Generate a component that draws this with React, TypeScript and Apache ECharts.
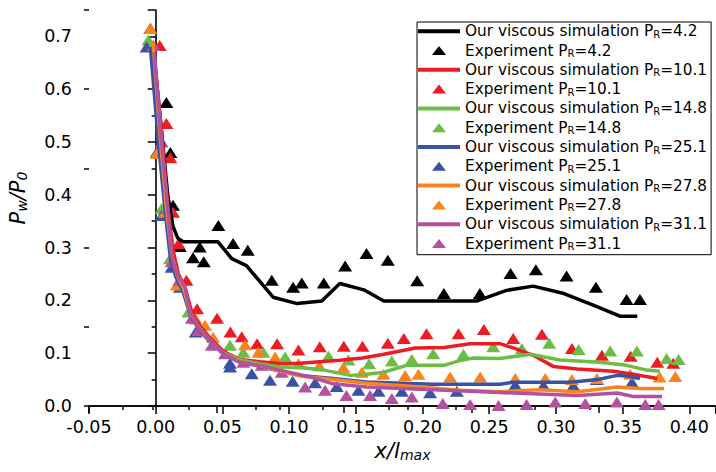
import React, { useEffect, useRef } from 'react';
import * as echarts from 'echarts';

const FONT = 'DejaVu Sans';

const PR_LABELS = ['4.2', '10.1', '14.8', '25.1', '27.8', '31.1'];
const COLORS = ['#000000', '#ed1c24', '#6cbd45', '#3953a4', '#f7841f', '#b4519f'];

// Simulation curves [x/lmax, Pw/P0]
const sim_4_2 = [
  [-0.002, 0.68], [0.004, 0.53], [0.009, 0.4], [0.013, 0.34], [0.0165, 0.318], [0.0205, 0.311],
  [0.0467, 0.311], [0.057, 0.279], [0.068, 0.266], [0.088, 0.206], [0.106, 0.194], [0.1245, 0.199],
  [0.138, 0.232], [0.156, 0.22], [0.171, 0.199], [0.241, 0.199], [0.263, 0.219], [0.283, 0.227],
  [0.306, 0.213], [0.328, 0.191], [0.348, 0.17], [0.361, 0.17],
];
const sim_10_1 = [
  [-0.002, 0.685], [0.004, 0.53], [0.009, 0.38], [0.013, 0.295], [0.017, 0.25], [0.022, 0.225],
  [0.027, 0.178], [0.033, 0.152], [0.041, 0.128], [0.051, 0.103], [0.063, 0.088], [0.078, 0.084],
  [0.095, 0.08], [0.108, 0.081], [0.138, 0.0865], [0.155, 0.091], [0.171, 0.098], [0.1945, 0.11],
  [0.216, 0.111], [0.236, 0.118], [0.258, 0.118], [0.268, 0.11], [0.283, 0.096], [0.298, 0.075],
  [0.316, 0.07], [0.343, 0.066], [0.358, 0.06], [0.376, 0.052],
];
const sim_14_8 = [
  [-0.004, 0.69], [0.003, 0.51], [0.008, 0.37], [0.012, 0.285], [0.016, 0.25], [0.021, 0.225],
  [0.026, 0.175], [0.032, 0.15], [0.04, 0.127], [0.05, 0.102], [0.062, 0.088], [0.078, 0.08],
  [0.093, 0.074], [0.108, 0.073], [0.126, 0.068], [0.146, 0.058], [0.158, 0.06], [0.171, 0.064],
  [0.188, 0.077], [0.216, 0.077], [0.228, 0.086], [0.238, 0.091], [0.258, 0.09], [0.281, 0.098],
  [0.303, 0.087], [0.333, 0.083], [0.353, 0.077], [0.368, 0.068], [0.378, 0.066],
];
const sim_25_1 = [
  [-0.004, 0.68], [0.002, 0.5], [0.007, 0.37], [0.011, 0.28], [0.015, 0.245], [0.02, 0.22],
  [0.026, 0.172], [0.032, 0.147], [0.04, 0.123], [0.05, 0.1], [0.062, 0.084], [0.078, 0.075],
  [0.093, 0.066], [0.108, 0.058], [0.133, 0.052], [0.158, 0.0455], [0.208, 0.041], [0.236, 0.041],
  [0.258, 0.041], [0.268, 0.045], [0.288, 0.045], [0.311, 0.045], [0.331, 0.05], [0.346, 0.058],
  [0.356, 0.056], [0.363, 0.052],
];
const sim_27_8 = [
  [-0.002, 0.69], [0.003, 0.52], [0.008, 0.375], [0.012, 0.285], [0.016, 0.248], [0.021, 0.222],
  [0.026, 0.175], [0.032, 0.15], [0.04, 0.125], [0.05, 0.1], [0.063, 0.084], [0.078, 0.076],
  [0.093, 0.066], [0.108, 0.057], [0.133, 0.05], [0.158, 0.043], [0.183, 0.039], [0.208, 0.034],
  [0.228, 0.03], [0.258, 0.027], [0.288, 0.031], [0.316, 0.027], [0.346, 0.036], [0.363, 0.033],
  [0.381, 0.033],
];
const sim_31_1 = [
  [-0.001, 0.67], [0.004, 0.51], [0.009, 0.375], [0.012, 0.282], [0.016, 0.25], [0.022, 0.225],
  [0.026, 0.175], [0.032, 0.15], [0.041, 0.124], [0.051, 0.099], [0.063, 0.083], [0.078, 0.077],
  [0.093, 0.068], [0.116, 0.055], [0.133, 0.042], [0.158, 0.036], [0.208, 0.031], [0.236, 0.028],
  [0.278, 0.0235], [0.316, 0.02], [0.346, 0.0246], [0.358, 0.018], [0.3795, 0.018],
];

// Experimental points
const exp_4_2 = [
  [-0.004, 0.715], [0.008, 0.575], [0.011, 0.48], [0.013, 0.38], [0.018, 0.302], [0.028, 0.281],
  [0.033, 0.301], [0.036, 0.273], [0.047, 0.342], [0.058, 0.308], [0.069, 0.295], [0.087, 0.238],
  [0.103, 0.225], [0.1095, 0.233], [0.126, 0.233], [0.142, 0.265], [0.158, 0.289], [0.174, 0.276],
  [0.196, 0.237], [0.216, 0.213], [0.243, 0.213], [0.266, 0.251], [0.285, 0.258], [0.308, 0.246],
  [0.33, 0.225], [0.353, 0.2015], [0.363, 0.2015],
];
const exp_10_1 = [
  [0.003, 0.683], [0.008, 0.535], [0.011, 0.47], [0.013, 0.367], [0.017, 0.308], [0.023, 0.238],
  [0.031, 0.184], [0.046, 0.166], [0.056, 0.14], [0.0645, 0.131], [0.076, 0.118], [0.091, 0.118],
  [0.107, 0.106], [0.123, 0.112], [0.141, 0.113], [0.155, 0.113], [0.174, 0.119], [0.186, 0.128],
  [0.203, 0.137], [0.227, 0.137], [0.246, 0.145], [0.268, 0.128], [0.2895, 0.136], [0.312, 0.109],
  [0.3345, 0.096], [0.356, 0.094], [0.376, 0.083], [0.388, 0.081],
];
const exp_14_8 = [
  [-0.0055, 0.693], [0.0045, 0.374], [0.0107, 0.279], [0.0245, 0.178], [0.0557, 0.115], [0.0657, 0.102],
  [0.0807, 0.102], [0.097, 0.093], [0.1295, 0.094], [0.1445, 0.087], [0.16, 0.08], [0.177, 0.085],
  [0.192, 0.088], [0.208, 0.099], [0.2307, 0.098], [0.253, 0.112], [0.2745, 0.109], [0.295, 0.119],
  [0.317, 0.107], [0.3407, 0.104], [0.3607, 0.104], [0.383, 0.09], [0.392, 0.088],
];
const exp_25_1 = [
  [-0.0068, 0.68], [0.0008, 0.481], [0.0045, 0.361], [0.012, 0.263], [0.0182, 0.225], [0.03, 0.14],
  [0.0557, 0.081], [0.0557, 0.074], [0.072, 0.061], [0.0857, 0.049], [0.1027, 0.047], [0.1195, 0.044],
  [0.1357, 0.037], [0.152, 0.03], [0.167, 0.028], [0.1845, 0.028], [0.2057, 0.025], [0.2257, 0.028],
  [0.2695, 0.04], [0.2907, 0.039], [0.313, 0.039], [0.3307, 0.05], [0.357, 0.045],
];
const exp_27_8 = [
  [-0.004, 0.715], [0.0008, 0.478], [0.007, 0.367], [0.0158, 0.229], [0.03, 0.165], [0.037, 0.153],
  [0.043, 0.13], [0.067, 0.116], [0.077, 0.102], [0.0895, 0.093], [0.107, 0.08], [0.1227, 0.076],
  [0.1407, 0.073], [0.1545, 0.064], [0.1707, 0.06], [0.187, 0.058], [0.197, 0.06], [0.2207, 0.055],
  [0.2432, 0.055], [0.2695, 0.052], [0.292, 0.052], [0.312, 0.05], [0.3307, 0.052], [0.3557, 0.06],
  [0.3777, 0.055], [0.3895, 0.056],
];
const exp_31_1 = [
  [-0.0018, 0.683], [0.0045, 0.5], [0.0095, 0.374], [0.012, 0.273], [0.0177, 0.238], [0.027, 0.166],
  [0.032, 0.143], [0.042, 0.115], [0.052, 0.099], [0.0657, 0.083], [0.0795, 0.077], [0.0945, 0.064],
  [0.112, 0.036], [0.127, 0.03], [0.143, 0.02], [0.1607, 0.02], [0.177, 0.014], [0.192, 0.017],
  [0.2152, 0.0045], [0.2357, 0.003], [0.257, 0.001], [0.278, 0.003], [0.2995, 0.0076], [0.322, 0.0045],
  [0.3457, 0.0076], [0.367, 0.003], [0.377, 0.003],
];

const SIM = [sim_4_2, sim_10_1, sim_14_8, sim_25_1, sim_27_8, sim_31_1];
const EXP = [exp_4_2, exp_10_1, exp_14_8, exp_25_1, exp_27_8, exp_31_1];

const SIM_PREFIX = 'Our viscous simulation';
const EXP_PREFIX = 'Experiment';

const TRI_ICON = 'path://M0,9L7,0L14,9Z M-14,4.5L-14,4.5 M28,4.5L28,4.5';
const LINE_ICON = 'path://M0,0L42,0L42,4L0,4Z';

export default function App() {
  const ref = useRef<HTMLDivElement>(null);

  useEffect(() => {
    if (!ref.current) return;
    const chart = echarts.init(ref.current, null, { renderer: 'svg' });

    const series: any[] = [];
    const legendData: any[] = [];
    PR_LABELS.forEach((pr, i) => {
      const simName = `${SIM_PREFIX} PR=${pr}`;
      const expName = `${EXP_PREFIX} PR=${pr}`;
      series.push({
        name: simName,
        type: 'line',
        data: SIM[i],
        symbol: 'none',
        showSymbol: false,
        color: COLORS[i],
        itemStyle: { color: COLORS[i], opacity: 1 },
        lineStyle: { width: 3.5, color: COLORS[i], opacity: 1 },
        xAxisIndex: 0,
        yAxisIndex: 0,
      });
      series.push({
        name: expName,
        type: 'scatter',
        data: EXP[i],
        symbol: 'triangle',
        symbolSize: [14, 11],
        color: COLORS[i],
        itemStyle: { color: COLORS[i], opacity: 1 },
        xAxisIndex: 0,
        yAxisIndex: 0,
      });
      legendData.push({ name: simName, icon: LINE_ICON, itemStyle: { color: COLORS[i], opacity: 1 } });
      legendData.push({ name: expName, icon: TRI_ICON, itemStyle: { color: COLORS[i], opacity: 1 } });
    });

    const axisLine = { show: true, lineStyle: { color: '#000', width: 1.6 } };

    chart.setOption({
      animation: false,
      backgroundColor: '#fff',
      grid: { left: 89, right: 0, top: 10, bottom: 66, outerBoundsMode: 'none', containLabel: false },
      legend: {
        orient: 'vertical',
        left: 417,
        top: 22,
        data: legendData,
        selectedMode: false,
        itemWidth: 42,
        itemHeight: 14,
        itemGap: 3.8,
        padding: [1.7, 4, 3.2, 1],
        borderColor: '#000',
        borderWidth: 1,
        backgroundColor: '#fff',
        formatter: (name: string) => {
          const idx = name.indexOf(' PR=');
          return `{t|${name.slice(0, idx)} P}{sub|R}{t|=${name.slice(idx + 4)}}`;
        },
        textStyle: {
          fontFamily: FONT,
          fontSize: 15.3,
          color: '#000',
          rich: {
            t: { fontFamily: FONT, fontSize: 15.3, lineHeight: 16, color: '#000' },
            sub: { fontFamily: FONT, fontSize: 10, lineHeight: 6, verticalAlign: 'bottom', color: '#000' },
          },
        },
      },
      xAxis: [
        {
          type: 'value',
          position: 'bottom',
          min: -0.05,
          max: 0.42,
          interval: 0.05,
          splitLine: { show: false },
          axisLine,
          axisTick: { show: true, inside: false, length: 8, lineStyle: { color: '#000', width: 1.5 } },
          minorTick: { show: true, splitNumber: 2, length: 4, lineStyle: { color: '#000', width: 1.5 } },
          axisLabel: {
            show: true,
            margin: 12,
            showMaxLabel: false,
            fontFamily: FONT,
            fontSize: 17.5,
            color: '#000',
            formatter: (v: number) => v.toFixed(2),
          },
          name: '{i|x/l}{s|max}',
          nameLocation: 'middle',
          nameGap: 33,
          nameTextStyle: {
            fontFamily: FONT,
            fontStyle: 'italic',
            fontSize: 21,
            color: '#000',
            rich: {
              i: { fontFamily: FONT, fontStyle: 'italic', fontSize: 21, lineHeight: 22, color: '#000' },
              s: { fontFamily: FONT, fontStyle: 'italic', fontSize: 14, lineHeight: 8, verticalAlign: 'bottom', color: '#000' },
            },
          },
        },
        {
          type: 'value',
          position: 'top',
          min: 0,
          max: 0.492,
          interval: 0.1,
          splitLine: { show: false },
          axisLine,
          axisTick: { show: true, inside: true, length: 7, lineStyle: { color: '#000', width: 1.5 } },
          minorTick: { show: true, splitNumber: 2, length: 4, lineStyle: { color: '#000', width: 1.5 } },
          axisLabel: { show: false },
        },
      ],
      yAxis: [
        {
          type: 'value',
          position: 'left',
          min: 0,
          max: 0.75,
          interval: 0.1,
          splitLine: { show: false },
          axisLine,
          axisTick: { show: true, inside: false, length: 8, lineStyle: { color: '#000', width: 1.5 } },
          minorTick: { show: true, splitNumber: 2, length: 4, lineStyle: { color: '#000', width: 1.5 } },
          axisLabel: {
            show: true,
            margin: 17,
            showMaxLabel: false,
            fontFamily: FONT,
            fontSize: 17.5,
            color: '#000',
            formatter: (v: number) => v.toFixed(1),
          },
          name: '{i|P}{s|w}{i|/P}{s|0}',
          nameLocation: 'middle',
          nameGap: 60,
          nameTextStyle: {
            fontFamily: FONT,
            fontStyle: 'italic',
            fontSize: 21,
            color: '#000',
            padding: [0, 0, 0, 20],
            rich: {
              i: { fontFamily: FONT, fontStyle: 'italic', fontSize: 21, lineHeight: 22, color: '#000' },
              s: { fontFamily: FONT, fontStyle: 'italic', fontSize: 14, lineHeight: 8, verticalAlign: 'bottom', color: '#000' },
            },
          },
        },
        {
          type: 'value',
          position: 'right',
          min: 0,
          max: 0.5,
          interval: 0.1,
          splitLine: { show: false },
          axisLine: { show: false },
          axisTick: { show: true, inside: true, length: 5, lineStyle: { color: '#000', width: 1.5 } },
          axisLabel: { show: false },
        },
      ],
      series,
    });

    return () => {
      chart.dispose();
    };
  }, []);

  return (
    <div
      ref={ref}
      style={{ position: 'fixed', left: 0, top: 0, width: 716, height: 472, background: '#fff' }}
    />
  );
}
